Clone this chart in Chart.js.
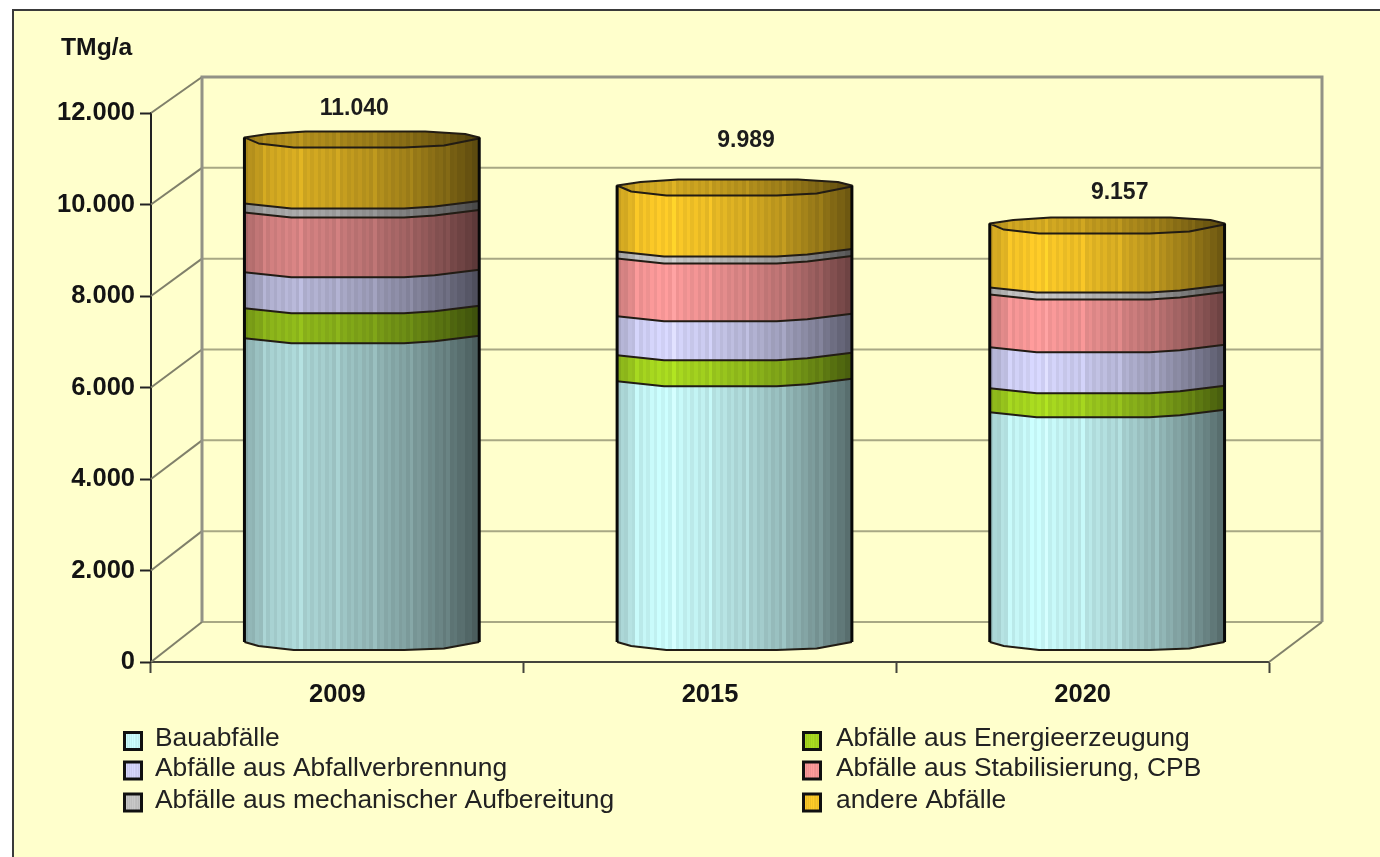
<!DOCTYPE html>
<html>
<head>
<meta charset="utf-8">
<title>TMg/a</title>
<script src="https://cdn.jsdelivr.net/npm/chart.js@4"></script>
<style>
    html, body { margin: 0; padding: 0; background: #fff; overflow: hidden; }
    canvas { display: block; }
</style>
</head>
<body>
<canvas id="wasteChart" width="1380" height="857"></canvas>
<script>
const years = ["2009", "2015", "2020"];
const totals = [11040, 9989, 9157];
const yTicks = [0, 2000, 4000, 6000, 8000, 10000, 12000];

const seriesNames = [
    "Bauabfälle",
    "Abfälle aus Energieerzeugung",
    "Abfälle aus Abfallverbrennung",
    "Abfälle aus Stabilisierung, CPB",
    "Abfälle aus mechanischer Aufbereitung",
    "andere Abfälle"
];
const bauabfaelle = [6650, 5710, 5033];
const energie = [655, 568, 524];
const verbrennung = [786, 852, 895];
const stabilisierung = [1310, 1266, 1157];
const mechanisch = [197, 153, 153];
const andere = [1442, 1440, 1395];

const seriesColors = ["#ccffff", "#aadc20", "#d8d8ff", "#ff9c9c", "#c8c8c8", "#ffcc28"];
const yearShade = [0.85, 1, 1];

const FONT = '"Liberation Sans", Arial, sans-serif';
const BG = "#ffffcc";

// the 3d box: back wall sits up and to the right of the front axes
const depthX = 51;
const depthY0 = 40;
const depthY1 = 36;
// cylinders stand halfway into the box
const barDX = 24.5;
const barDY = -19.5;
const totalLabelShift = [[-7.5, -29], [11.5, -45], [12.5, -31]];

// outlines of the coarse cylinder rims: [share of radius, px below the left corner]
const seamRim = [[-1, 0], [-0.88, 1.5], [-0.6, 5], [0.36, 5], [0.62, 3], [1, -2.5]];
const capFrontRim = [[-1, 0], [-0.88, 6], [-0.58, 10], [0.36, 10], [0.7, 8], [1, 1]];
const capBackRim = [[-1, 0], [-0.8, -3.5], [-0.48, -6], [0.54, -6], [0.88, -3.5], [1, 0]];
const bottomRim = [[-1, 0], [-0.88, 4], [-0.58, 8], [0.36, 8], [0.7, 6.5], [1, 0]];

function hexToRgb(hex) {
    return [1, 3, 5].map(i => parseInt(hex.slice(i, i + 2), 16));
}

function shadeAt(t) {
    const pts = [[0, 0.8], [0.1, 0.95], [0.2, 1], [0.38, 0.93], [0.55, 0.84], [0.75, 0.7], [0.92, 0.52], [1, 0.42]];
    for (let i = 1; i < pts.length; i++) {
        if (t <= pts[i][0]) {
            const k = (t - pts[i - 1][0]) / (pts[i][0] - pts[i - 1][0]);
            return pts[i - 1][1] + k * (pts[i][1] - pts[i - 1][1]);
        }
    }
    return 0.42;
}

// ribbed horizontal gradient, built from narrow flat bands
function ribbedGradient(ctx, x0, x1, color, factor) {
    const rgb = hexToRgb(color);
    const g = ctx.createLinearGradient(x0, 0, x1, 0);
    const bands = 64;
    for (let i = 0; i < bands; i++) {
        const rib = i % 2 === 0 ? 0.96 : (i % 5 === 0 ? 1.06 : 1.01);
        const f = shadeAt((i + 0.5) / bands) * factor * rib;
        const c = "rgb(" + rgb.map(v => Math.min(255, Math.round(v * f))).join(",") + ")";
        g.addColorStop(i / bands, c);
        g.addColorStop((i + 1) / bands, c);
    }
    return g;
}

function rimPath(ctx, cx, y, rx, rim, reverse) {
    const pts = reverse ? rim.slice().reverse() : rim;
    pts.forEach(p => ctx.lineTo(cx + p[0] * rx, y + p[1]));
}

const panelPlugin = {
    id: "panel",
    beforeDraw(chart) {
        const ctx = chart.ctx;
        ctx.save();
        ctx.fillStyle = "#fff";
        ctx.fillRect(0, 0, chart.width, chart.height);
        ctx.fillStyle = BG;
        ctx.fillRect(12, 9, chart.width - 12, chart.height - 9);
        ctx.strokeStyle = "#3a3a3a";
        ctx.lineWidth = 2;
        ctx.beginPath();
        ctx.moveTo(13, chart.height);
        ctx.lineTo(13, 10);
        ctx.lineTo(chart.width, 10);
        ctx.stroke();
        ctx.restore();
    }
};

const boxPlugin = {
    id: "box3d",
    beforeDatasetsDraw(chart) {
        const ctx = chart.ctx;
        const yScale = chart.scales.y;
        const area = chart.chartArea;
        const backY = v => yScale.getPixelForValue(v) - depthY0 + (depthY0 - depthY1) * v / 12000;
        const left = area.left + depthX;
        const right = area.right + depthX + 2;

        ctx.save();
        // grid on the back wall and its diagonals down to the y axis
        yTicks.forEach(v => {
            ctx.strokeStyle = "#a8a884";
            ctx.lineWidth = 2;
            ctx.beginPath();
            ctx.moveTo(left, backY(v));
            ctx.lineTo(right, backY(v));
            ctx.stroke();
            ctx.strokeStyle = "#80806a";
            ctx.beginPath();
            ctx.moveTo(area.left, yScale.getPixelForValue(v));
            ctx.lineTo(left, backY(v));
            ctx.stroke();
        });
        ctx.strokeStyle = "#80806a";
        ctx.beginPath();
        ctx.moveTo(area.right, yScale.getPixelForValue(0));
        ctx.lineTo(right, backY(0));
        ctx.stroke();
        // wall outline
        ctx.strokeStyle = "#929286";
        ctx.lineWidth = 3;
        ctx.beginPath();
        ctx.moveTo(left, backY(0));
        ctx.lineTo(left, backY(12000));
        ctx.lineTo(right, backY(12000));
        ctx.lineTo(right, backY(0));
        ctx.stroke();
        ctx.restore();
    }
};

const cylinderPlugin = {
    id: "cylinders",
    // the flat rectangles are replaced by the cylinder faces below
    beforeDatasetDraw() {
        return false;
    },
    afterDatasetsDraw(chart) {
        const ctx = chart.ctx;
        const last = chart.data.datasets.length - 1;
        ctx.save();
        ctx.translate(barDX, barDY);
        ctx.lineJoin = "round";
        years.forEach((year, j) => {
            const ref = chart.getDatasetMeta(0).data[j];
            const cx = ref.x;
            const rx = ref.width / 2;
            const x0 = cx - rx;
            const x1 = cx + rx;
            const factor = yearShade[j];

            chart.data.datasets.forEach((ds, i) => {
                const el = chart.getDatasetMeta(i).data[j];
                ctx.beginPath();
                rimPath(ctx, cx, el.y, rx, i === last ? capFrontRim : seamRim, false);
                rimPath(ctx, cx, el.base, rx, i === 0 ? bottomRim : seamRim, true);
                ctx.closePath();
                ctx.fillStyle = ribbedGradient(ctx, x0, x1, seriesColors[i], factor);
                ctx.fill();
            });

            // seams between the stacked sections, and the lower rim
            ctx.strokeStyle = "#221c14";
            ctx.lineWidth = 2;
            chart.data.datasets.forEach((ds, i) => {
                const el = chart.getDatasetMeta(i).data[j];
                ctx.beginPath();
                rimPath(ctx, cx, el.base, rx, i === 0 ? bottomRim : seamRim, false);
                ctx.stroke();
            });

            // top cap
            const top = chart.getDatasetMeta(last).data[j];
            ctx.beginPath();
            rimPath(ctx, cx, top.y, rx, capBackRim, false);
            rimPath(ctx, cx, top.y, rx, capFrontRim, true);
            ctx.closePath();
            ctx.fillStyle = ribbedGradient(ctx, x0, x1, seriesColors[last], factor * 0.84);
            ctx.fill();
            ctx.stroke();

            // side edges
            ctx.strokeStyle = "#080808";
            ctx.lineWidth = 3;
            ctx.beginPath();
            ctx.moveTo(x0, top.y);
            ctx.lineTo(x0, ref.base);
            ctx.moveTo(x1, top.y);
            ctx.lineTo(x1, ref.base);
            ctx.stroke();
        });
        ctx.restore();

        // stack totals
        ctx.save();
        ctx.fillStyle = "#1c1c1c";
        ctx.font = "bold 23px " + FONT;
        ctx.textAlign = "center";
        ctx.textBaseline = "middle";
        totals.forEach((t, j) => {
            const cx = chart.getDatasetMeta(0).data[j].x + barDX + totalLabelShift[j][0];
            const y = chart.scales.y.getPixelForValue(t) + barDY + totalLabelShift[j][1];
            ctx.fillText(t.toLocaleString("de-DE"), cx, y);
        });
        ctx.restore();
    }
};

const notesPlugin = {
    id: "notes",
    afterDraw(chart) {
        const ctx = chart.ctx;
        ctx.save();
        ctx.fillStyle = "#141414";
        ctx.font = "bold 24.7px " + FONT;
        ctx.textBaseline = "middle";
        ctx.fillText("TMg/a", 61, 48);

        // two column legend, filled row by row
        const columns = [123, 802];
        const textColumns = [155, 836];
        const rows = [741, 770.5, 802.5];
        ctx.font = "26.4px " + FONT;
        seriesNames.forEach((name, i) => {
            const x = columns[i % 2];
            const y = rows[Math.floor(i / 2)];
            ctx.fillStyle = ribbedGradient(ctx, x - 2, x + 60, seriesColors[i], 1);
            ctx.fillRect(x + 1.5, y - 8.5, 17, 17);
            ctx.strokeStyle = "#101010";
            ctx.lineWidth = 3;
            ctx.strokeRect(x + 1.5, y - 8.5, 17, 17);
            ctx.fillStyle = "#222";
            ctx.fillText(name, textColumns[i % 2], y - 2);
        });
        ctx.restore();
    }
};

const seriesValues = [bauabfaelle, energie, verbrennung, stabilisierung, mechanisch, andere];

new Chart(document.getElementById("wasteChart"), {
    type: "bar",
    data: {
        labels: years,
        datasets: seriesNames.map((name, i) => ({
            label: name,
            data: seriesValues[i],
            backgroundColor: seriesColors[i],
            barPercentage: 0.63,
            categoryPercentage: 1
        }))
    },
    options: {
        responsive: false,
        animation: false,
        layout: { padding: { left: 0, top: 113, right: 111, bottom: 140 } },
        plugins: {
            legend: { display: false },
            tooltip: { enabled: false }
        },
        scales: {
            x: {
                stacked: true,
                afterFit: scale => { scale.height = 55; },
                grid: { drawOnChartArea: false, tickLength: 11, tickColor: "#44443c", tickWidth: 2, offset: true },
                border: { color: "#44443c", width: 2 },
                ticks: {
                    color: "#141414",
                    padding: 7,
                    font: { family: FONT, size: 25.5, weight: "bold" }
                }
            },
            y: {
                stacked: true,
                min: 0,
                max: 12000,
                afterFit: scale => { scale.width = 151; },
                afterBuildTicks: scale => { scale.ticks = yTicks.map(v => ({ value: v })); },
                grid: { drawOnChartArea: false, tickLength: 11, tickColor: "#222", tickWidth: 2 },
                border: { color: "#222", width: 2 },
                ticks: {
                    color: "#141414",
                    padding: 5,
                    font: { family: FONT, size: 25.5, weight: "bold" },
                    callback: v => v.toLocaleString("de-DE")
                }
            }
        }
    },
    plugins: [panelPlugin, boxPlugin, cylinderPlugin, notesPlugin]
});
</script>
</body>
</html>
